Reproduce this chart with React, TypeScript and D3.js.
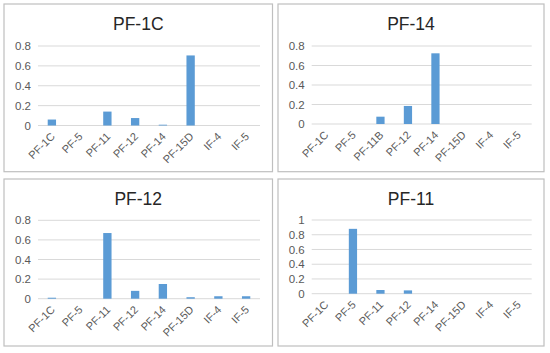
import React from 'react';
import * as d3 from 'd3';

// categories on the x axis (top right chart uses PF-11B)
const categories = ['PF-1C', 'PF-5', 'PF-11', 'PF-12', 'PF-14', 'PF-15D', 'IF-4', 'IF-5'];
const categories11B = ['PF-1C', 'PF-5', 'PF-11B', 'PF-12', 'PF-14', 'PF-15D', 'IF-4', 'IF-5'];

// values
const pf1cValues = [0.06, 0, 0.14, 0.075, 0.008, 0.705, 0, 0];
const pf14Values = [0, 0, 0.075, 0.185, 0.725, 0, 0, 0];
const pf12Values = [0.01, 0, 0.67, 0.08, 0.15, 0.015, 0.025, 0.025];
const pf11Values = [0, 0.88, 0.05, 0.045, 0, 0, 0, 0];

const ticks08 = [0, 0.2, 0.4, 0.6, 0.8];
const ticks1 = [0, 0.2, 0.4, 0.6, 0.8, 1];

const titles = ['PF-1C', 'PF-14', 'PF-12', 'PF-11'];

const BAR = '#5b9bd5';
const FONT = '"Liberation Sans", Arial, sans-serif';

// layout for each panel: box, plot left/right, y of zero and of top tick
const panels = [
  { title: titles[0], cats: categories, values: pf1cValues, ticks: ticks08, box: [4, 4, 268.5, 167.7], x0: 38, x1: 260, yZero: 125.5, yTop: 46 },
  { title: titles[1], cats: categories11B, values: pf14Values, ticks: ticks08, box: [278, 4, 266, 167.7], x0: 311.7, x1: 531.7, yZero: 124, yTop: 46 },
  { title: titles[2], cats: categories, values: pf12Values, ticks: ticks08, box: [4, 179, 268.5, 167], x0: 38, x1: 260, yZero: 298.7, yTop: 220.3 },
  { title: titles[3], cats: categories, values: pf11Values, ticks: ticks1, box: [278, 179, 266, 167], x0: 311.7, x1: 531.7, yZero: 293.7, yTop: 220 },
];

function Panel({ p }) {
  const [bx, by, bw, bh] = p.box;
  const x = d3.scaleBand().domain(p.cats).range([p.x0, p.x1]).paddingInner(0.7).paddingOuter(0.35);
  const y = d3.scaleLinear().domain([0, d3.max(p.ticks)]).range([p.yZero, p.yTop]);
  const half = x.bandwidth() / 2;

  return (
    <g>
      <rect x={bx} y={by} width={bw} height={bh} fill="#fff" stroke="#bfbfbf" strokeWidth={1.2} />
      <text x={bx + bw / 2} y={by + 26} textAnchor="middle" fontFamily={FONT} fontSize={17.5} fill="#262626">
        {p.title}
      </text>
      {p.ticks.map((t) => (
        <g key={t}>
          <line x1={p.x0} x2={p.x1} y1={y(t)} y2={y(t)} stroke="#d9d9d9" strokeWidth={1} />
          <text x={p.x0 - 7} y={y(t)} dy="0.35em" textAnchor="end" fontFamily={FONT} fontSize={11.5} fill="#595959">
            {d3.format('~g')(t)}
          </text>
        </g>
      ))}
      {p.cats.map((c, i) => (
        p.values[i] > 0 ? (
          <rect key={c} x={x(c)} y={y(p.values[i])} width={x.bandwidth()} height={p.yZero - y(p.values[i])} fill={BAR} />
        ) : null
      ))}
      {p.cats.map((c) => {
        const cx = x(c) + half + 1;
        const ty = p.yZero + 9;
        return (
          <text key={c} x={cx} y={ty} textAnchor="end" dy="0.35em" transform={`rotate(-45 ${cx} ${ty})`}
            fontFamily={FONT} fontSize={11} fill="#595959">
            {c}
          </text>
        );
      })}
    </g>
  );
}

export default function App() {
  return (
    <svg width={550} height={353} style={{ position: 'absolute', left: 0, top: 0, background: '#fff' }}>
      {panels.map((p) => <Panel key={p.title} p={p} />)}
    </svg>
  );
}
